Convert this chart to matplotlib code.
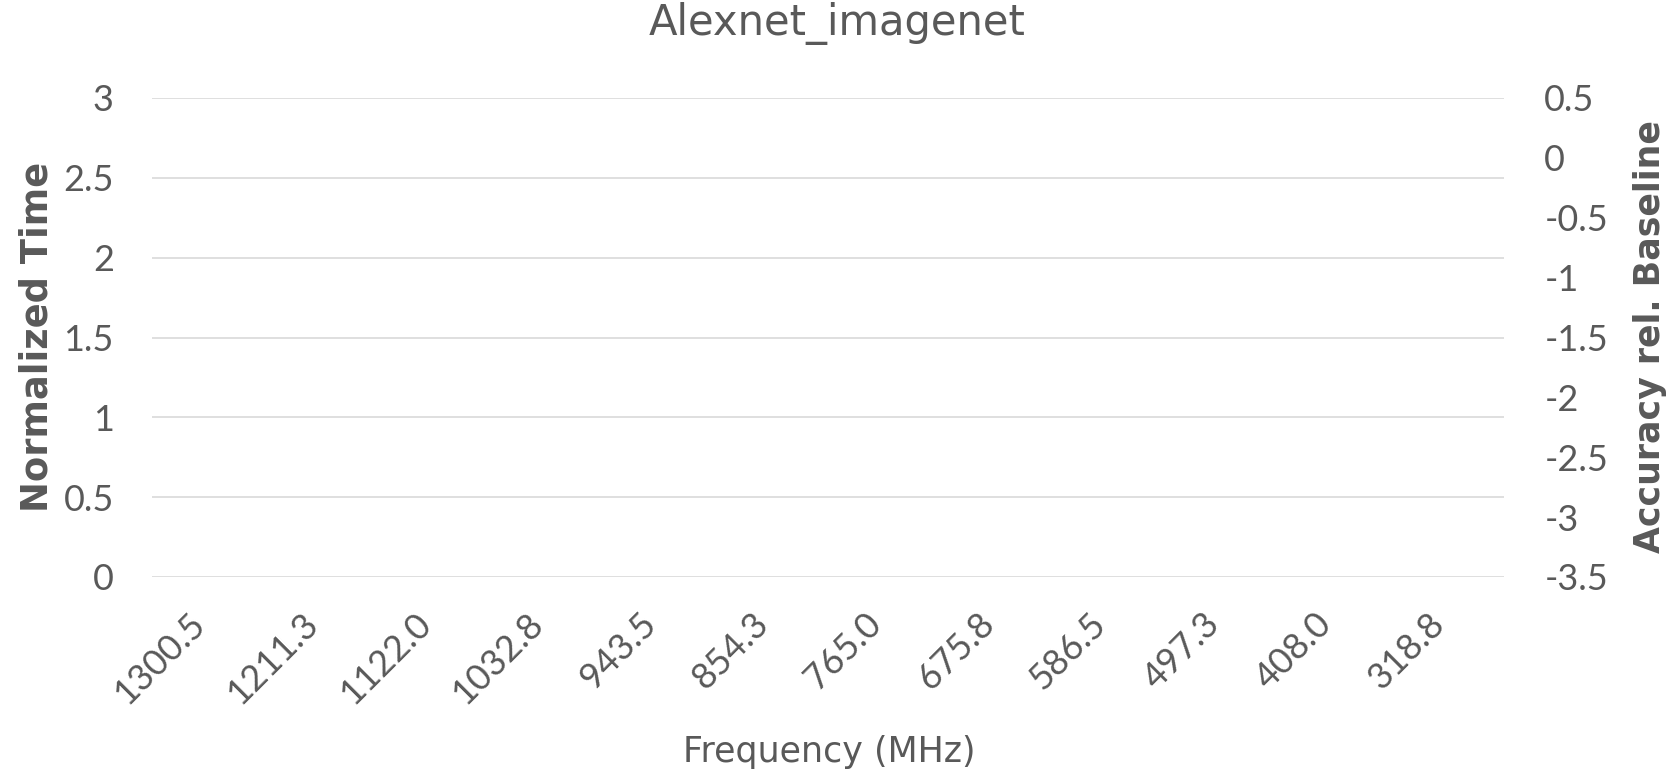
import matplotlib
matplotlib.use("Agg")
import matplotlib.pyplot as plt
import matplotlib.transforms as mtrans
import numpy as np

# Data (the chart has no plotted series, only its axes)
frequencies = ["1300.5", "1211.3", "1122.0", "1032.8", "943.5", "854.3",
               "765.0", "675.8", "586.5", "497.3", "408.0", "318.8"]
left_ticks = [0, 0.5, 1, 1.5, 2, 2.5, 3]
left_tick_labels = ["0", "0.5", "1", "1.5", "2", "2.5", "3"]
right_ticks = [-3.5, -3, -2.5, -2, -1.5, -1, -0.5, 0, 0.5]
right_tick_labels = ["-3.5", "-3", "-2.5", "-2", "-1.5", "-1", "-0.5", "0", "0.5"]

W, H = 1671, 778
TXT = "#595959"
GRID = "#d9d9d9"
TICK_FONT = ['Lato', 'DejaVu Sans']
LABEL_FONT = ['DejaVu Sans']
plt.rcParams['font.family'] = TICK_FONT

fig = plt.figure(figsize=(W / 100, H / 100), dpi=100)
renderer = fig.canvas.get_renderer()


def fit_size(text, target_px, family, weight='normal', base=20.0):
    t = fig.text(0, 0, text, fontsize=base, family=family, fontweight=weight)
    bb = t.get_window_extent(renderer)
    t.remove()
    return base * target_px / bb.width


tick_size = fit_size("2.5", 50, TICK_FONT)
title_size = fit_size("Alexnet_imagenet", 377, LABEL_FONT)
xlabel_size = fit_size("Frequency (MHz)", 293, LABEL_FONT)
ylabel_size = fit_size("Normalized Time", 350, LABEL_FONT, weight='bold')
y2label_size = fit_size("Accuracy rel. Baseline", 434, LABEL_FONT, weight='bold')

L, R, T, B = 152, 1504, 98, 577
ax = fig.add_axes([L / W, 1 - B / H, (R - L) / W, (B - T) / H])
ax2 = ax.twinx()

x = np.arange(len(frequencies))
ax.set_xlim(-0.5, len(frequencies) - 0.5)
ax.set_ylim(0, 3)
ax.set_yticks(left_ticks)
ax.set_yticklabels(left_tick_labels)
ax.yaxis.grid(True, color=GRID, linewidth=1.2)
ax.set_axisbelow(True)
ax.set_xticks(x)
ax.set_xticklabels(frequencies, rotation=45, ha='right', rotation_mode='anchor')

ax2.set_ylim(-3.5, 0.5)
ax2.set_yticks(right_ticks)
ax2.set_yticklabels(right_tick_labels)

for a in (ax, ax2):
    for s in a.spines.values():
        s.set_visible(False)
ax.tick_params(axis='y', length=0, pad=27.5, labelsize=tick_size, labelcolor=TXT)
ax.tick_params(axis='x', length=0, pad=21.5, labelsize=tick_size, labelcolor=TXT)
ax2.tick_params(axis='y', length=0, pad=29, labelsize=tick_size, labelcolor=TXT)
for lbl in ax2.get_yticklabels():
    lbl.set_ha('left')

shift = mtrans.ScaledTranslation(-20 / 100, 0, fig.dpi_scale_trans)
for lbl in ax.get_xticklabels():
    lbl.set_transform(lbl.get_transform() + shift)

# Titles (placed in pixel coordinates of the figure)
fig.text(837 / W, 1 - 35 / H, "Alexnet_imagenet", fontsize=title_size,
         family=LABEL_FONT, color=TXT, ha='center', va='baseline')
fig.text(829 / W, 1 - 762 / H, "Frequency (MHz)", fontsize=xlabel_size,
         family=LABEL_FONT, color=TXT, ha='center', va='baseline')
fig.text(48 / W, 1 - 337 / H, "Normalized Time", fontsize=ylabel_size,
         family=LABEL_FONT, fontweight='bold', color=TXT, rotation=90,
         rotation_mode='anchor', ha='center', va='baseline')
fig.text(1660 / W, 1 - 337 / H, "Accuracy rel. Baseline", fontsize=y2label_size,
         family=LABEL_FONT, fontweight='bold', color=TXT, rotation=90,
         rotation_mode='anchor', ha='center', va='baseline')

fig.savefig("out.png", dpi=100)
